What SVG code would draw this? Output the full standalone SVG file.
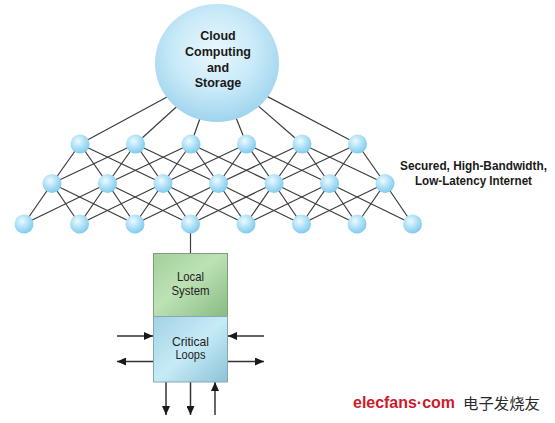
<svg xmlns="http://www.w3.org/2000/svg" width="555" height="423" viewBox="0 0 555 423">
<defs>
<radialGradient id="gNode" cx="40%" cy="35%" r="65%">
<stop offset="0" stop-color="#eefaff"/>
<stop offset="0.45" stop-color="#b9e5f8"/>
<stop offset="1" stop-color="#82cbec"/>
</radialGradient>
<radialGradient id="gCloud" cx="48%" cy="40%" r="60%">
<stop offset="0" stop-color="#eaf7fd"/>
<stop offset="0.55" stop-color="#c9eaf8"/>
<stop offset="1" stop-color="#9fd4ee"/>
</radialGradient>
<linearGradient id="gLocal" x1="0" y1="0" x2="1" y2="1">
<stop offset="0" stop-color="#a3d09c"/>
<stop offset="0.45" stop-color="#bde2b5"/>
<stop offset="1" stop-color="#88bb83"/>
</linearGradient>
<linearGradient id="gCrit" x1="0" y1="0" x2="1" y2="1">
<stop offset="0" stop-color="#a2d2e3"/>
<stop offset="0.5" stop-color="#c6ebf7"/>
<stop offset="1" stop-color="#8dc2d6"/>
</linearGradient>
<marker id="ah" markerUnits="userSpaceOnUse" markerWidth="9" markerHeight="8" refX="9" refY="4" orient="auto">
<path d="M0,0 L9,4 L0,8 Z" fill="#1a1a1a"/>
</marker>
</defs>
<style>
.mesh line{stroke:#3c3c3c;stroke-width:1.2}
.arr line{stroke:#333;stroke-width:1.5;marker-end:url(#ah)}
.node circle{fill:url(#gNode)}
.bold{font-family:"Liberation Sans",Arial,sans-serif;font-weight:bold;font-size:12.5px;fill:#1a1a1a;text-anchor:middle}
.reg{font-family:"Liberation Sans",Arial,sans-serif;font-size:13px;fill:#222;text-anchor:middle}
</style>
<rect width="555" height="423" fill="#ffffff"/>
<g id="connectors">
<g class="mesh">
<line x1="217" y1="70" x2="80" y2="144"/>
<line x1="217" y1="70" x2="135.5" y2="144"/>
<line x1="217" y1="70" x2="191" y2="144"/>
<line x1="217" y1="70" x2="246.5" y2="144"/>
<line x1="217" y1="70" x2="302" y2="144"/>
<line x1="217" y1="70" x2="357.5" y2="144"/>
<line x1="80" y1="144" x2="52" y2="183.5"/>
<line x1="80" y1="144" x2="107.5" y2="183.5"/>
<line x1="80" y1="144" x2="163" y2="183.5"/>
<line x1="135.5" y1="144" x2="52" y2="183.5"/>
<line x1="135.5" y1="144" x2="107.5" y2="183.5"/>
<line x1="135.5" y1="144" x2="163" y2="183.5"/>
<line x1="135.5" y1="144" x2="218.5" y2="183.5"/>
<line x1="191" y1="144" x2="107.5" y2="183.5"/>
<line x1="191" y1="144" x2="163" y2="183.5"/>
<line x1="191" y1="144" x2="218.5" y2="183.5"/>
<line x1="191" y1="144" x2="274" y2="183.5"/>
<line x1="246.5" y1="144" x2="163" y2="183.5"/>
<line x1="246.5" y1="144" x2="218.5" y2="183.5"/>
<line x1="246.5" y1="144" x2="274" y2="183.5"/>
<line x1="246.5" y1="144" x2="329.5" y2="183.5"/>
<line x1="302" y1="144" x2="218.5" y2="183.5"/>
<line x1="302" y1="144" x2="274" y2="183.5"/>
<line x1="302" y1="144" x2="329.5" y2="183.5"/>
<line x1="302" y1="144" x2="385" y2="183.5"/>
<line x1="357.5" y1="144" x2="274" y2="183.5"/>
<line x1="357.5" y1="144" x2="329.5" y2="183.5"/>
<line x1="357.5" y1="144" x2="385" y2="183.5"/>
<line x1="52" y1="183.5" x2="24" y2="224"/>
<line x1="52" y1="183.5" x2="79.5" y2="224"/>
<line x1="52" y1="183.5" x2="135" y2="224"/>
<line x1="107.5" y1="183.5" x2="24" y2="224"/>
<line x1="107.5" y1="183.5" x2="79.5" y2="224"/>
<line x1="107.5" y1="183.5" x2="135" y2="224"/>
<line x1="107.5" y1="183.5" x2="190.5" y2="224"/>
<line x1="163" y1="183.5" x2="79.5" y2="224"/>
<line x1="163" y1="183.5" x2="135" y2="224"/>
<line x1="163" y1="183.5" x2="190.5" y2="224"/>
<line x1="163" y1="183.5" x2="246" y2="224"/>
<line x1="218.5" y1="183.5" x2="135" y2="224"/>
<line x1="218.5" y1="183.5" x2="190.5" y2="224"/>
<line x1="218.5" y1="183.5" x2="246" y2="224"/>
<line x1="218.5" y1="183.5" x2="301.5" y2="224"/>
<line x1="274" y1="183.5" x2="190.5" y2="224"/>
<line x1="274" y1="183.5" x2="246" y2="224"/>
<line x1="274" y1="183.5" x2="301.5" y2="224"/>
<line x1="274" y1="183.5" x2="357" y2="224"/>
<line x1="329.5" y1="183.5" x2="246" y2="224"/>
<line x1="329.5" y1="183.5" x2="301.5" y2="224"/>
<line x1="329.5" y1="183.5" x2="357" y2="224"/>
<line x1="329.5" y1="183.5" x2="412.5" y2="224"/>
<line x1="385" y1="183.5" x2="301.5" y2="224"/>
<line x1="385" y1="183.5" x2="357" y2="224"/>
<line x1="385" y1="183.5" x2="412.5" y2="224"/>
<line x1="190.5" y1="224" x2="190.5" y2="253.5"/>
</g>
<g class="arr">
<line x1="117" y1="336" x2="153" y2="336"/>
<line x1="153" y1="361.5" x2="117" y2="361.5"/>
<line x1="264" y1="336" x2="228" y2="336"/>
<line x1="228" y1="361.5" x2="264" y2="361.5"/>
<line x1="166" y1="382" x2="166" y2="415"/>
<line x1="190.5" y1="382" x2="190.5" y2="415"/>
<line x1="215" y1="415" x2="215" y2="382"/>
</g>
</g>
<g id="cloud">
<ellipse cx="217" cy="63" rx="62" ry="59" fill="url(#gCloud)"/>
<text class="bold" x="218" y="40">Cloud</text>
<text class="bold" x="218" y="56">Computing</text>
<text class="bold" x="218" y="71.5">and</text>
<text class="bold" x="218" y="87">Storage</text>
</g>
<g id="t0" class="node"><circle cx="80" cy="144" r="9.5"/></g>
<g id="t1" class="node"><circle cx="135.5" cy="144" r="9.5"/></g>
<g id="t2" class="node"><circle cx="191" cy="144" r="9.5"/></g>
<g id="t3" class="node"><circle cx="246.5" cy="144" r="9.5"/></g>
<g id="t4" class="node"><circle cx="302" cy="144" r="9.5"/></g>
<g id="t5" class="node"><circle cx="357.5" cy="144" r="9.5"/></g>
<g id="m0" class="node"><circle cx="52" cy="183.5" r="9.5"/></g>
<g id="m1" class="node"><circle cx="107.5" cy="183.5" r="9.5"/></g>
<g id="m2" class="node"><circle cx="163" cy="183.5" r="9.5"/></g>
<g id="m3" class="node"><circle cx="218.5" cy="183.5" r="9.5"/></g>
<g id="m4" class="node"><circle cx="274" cy="183.5" r="9.5"/></g>
<g id="m5" class="node"><circle cx="329.5" cy="183.5" r="9.5"/></g>
<g id="m6" class="node"><circle cx="385" cy="183.5" r="9.5"/></g>
<g id="b0" class="node"><circle cx="24" cy="224" r="9.5"/></g>
<g id="b1" class="node"><circle cx="79.5" cy="224" r="9.5"/></g>
<g id="b2" class="node"><circle cx="135" cy="224" r="9.5"/></g>
<g id="b3" class="node"><circle cx="190.5" cy="224" r="9.5"/></g>
<g id="b4" class="node"><circle cx="246" cy="224" r="9.5"/></g>
<g id="b5" class="node"><circle cx="301.5" cy="224" r="9.5"/></g>
<g id="b6" class="node"><circle cx="357" cy="224" r="9.5"/></g>
<g id="b7" class="node"><circle cx="412.5" cy="224" r="9.5"/></g>
<g id="internet-label">
<text class="bold" x="473.5" y="169.5" font-size="12px" style="font-size:12px" textLength="147" lengthAdjust="spacingAndGlyphs">Secured, High-Bandwidth,</text>
<text class="bold" x="473.5" y="185" style="font-size:12px" textLength="117" lengthAdjust="spacingAndGlyphs">Low-Latency Internet</text>
</g>
<g id="local-system">
<rect x="153.5" y="253.5" width="74" height="63" fill="url(#gLocal)" stroke="#7e9f7b" stroke-width="1"/>
<text class="reg" x="190.5" y="280.5" textLength="27" lengthAdjust="spacingAndGlyphs">Local</text>
<text class="reg" x="190.5" y="294.5" textLength="38" lengthAdjust="spacingAndGlyphs">System</text>
</g>
<g id="critical-loops">
<rect x="153.5" y="316.5" width="74" height="65.5" fill="url(#gCrit)" stroke="#86a9b6" stroke-width="1"/>
<text class="reg" x="190.5" y="345.5" textLength="37" lengthAdjust="spacingAndGlyphs">Critical</text>
<text class="reg" x="190.5" y="359" textLength="30" lengthAdjust="spacingAndGlyphs">Loops</text>
</g>
<g id="watermark">
<text x="353" y="408" style="font-family:'Liberation Sans',Arial,sans-serif;font-weight:bold;font-size:16px;fill:#cc1b2c" textLength="102" lengthAdjust="spacingAndGlyphs">elecfans·com</text>
<text x="463" y="409" style="font-family:'Noto Sans CJK SC',sans-serif;font-size:15px;fill:#2a2a2a" textLength="77" lengthAdjust="spacingAndGlyphs">电子发烧友</text>
</g>
</svg>
